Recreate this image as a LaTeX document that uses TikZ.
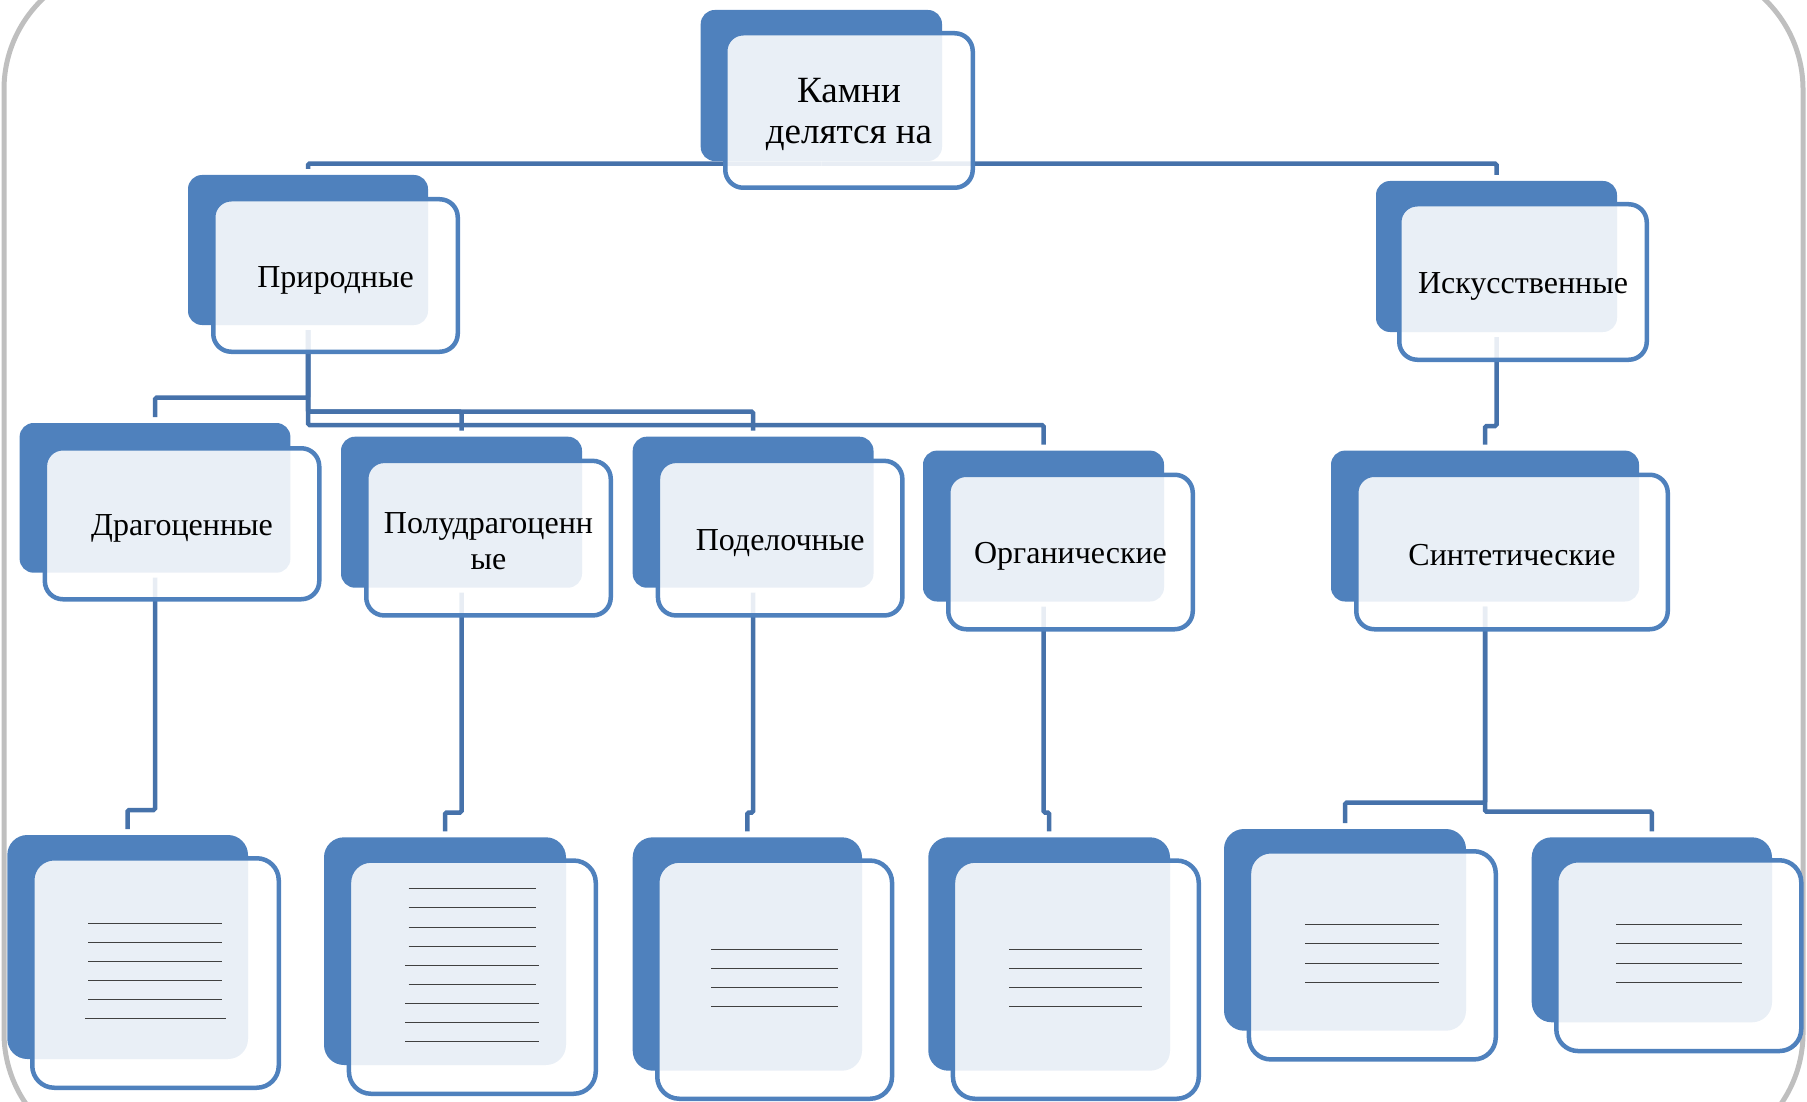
\documentclass[tikz,border=0pt]{standalone}
\usepackage{fontspec}
\setmainfont{Liberation Serif}
\usetikzlibrary{calc}
\pgfdeclarelayer{bg}
\pgfsetlayers{bg,main}
\definecolor{boxblue}{RGB}{79,129,189}
\definecolor{connblue}{RGB}{70,114,170}
\definecolor{framegray}{RGB}{191,191,191}
\definecolor{rulegray}{RGB}{64,64,64}
\tikzset{
  darkbox/.style={rectangle, fill=boxblue, rounded corners=14pt, inner sep=0pt, outer sep=0pt},
  frontbox/.style={rectangle, draw=boxblue, line width=4.5pt, fill=white, fill opacity=0.88,
    rounded corners=18pt, inner sep=0pt, outer sep=0pt},
  lbl/.style={align=center, text=black, inner sep=0pt, font=\fontsize{32}{36}\selectfont},
  toplbl/.style={font=\fontsize{37}{41.5}\selectfont},
  bigdark/.style={rounded corners=20pt},
  bigfront/.style={rounded corners=22pt},
  conn/.style={draw=connblue, line width=4.5pt, rounded corners=1.5pt},
  rule/.style={draw=rulegray, line width=1.4pt},
  frame/.style={draw=framegray, line width=5pt, rounded corners=125pt},
}
% dark (back) box: [style]{name}{x1}{y1}{x2}{y2}
\newcommand{\dk}[6][]{\node[darkbox,#1, minimum width={#5-#3}, minimum height={#6-#4}] (#2) at ({(#3+#5)/2},{(#4+#6)/2}) {};}
% front box: [style]{name}{x1}{y1}{x2}{y2}
\newcommand{\fr}[6][]{\node[frontbox,#1, minimum width={#5-#3-4.5}, minimum height={#6-#4-4.5}] (#2) at ({(#3+#5)/2},{(#4+#6)/2}) {};}
\begin{document}
\begin{tikzpicture}[x=1pt,y=-1pt]
\useasboundingbox (0,0) rectangle (1807,1102);
\clip (0,0) rectangle (1807,1102);

% boxes
\dk{K}{700.7}{10}{942}{161}
\fr{Kf}{723}{31}{975}{190}
\node[lbl,toplbl] (Kt) at ([yshift=-4pt]Kf.center) {Камни\\делятся на};

\dk{Pr}{188}{175}{428}{325}
\fr{Prf}{211}{197}{460}{354}
\node[lbl] (Prt) at ([yshift=-4.5pt]Prf.center) {Природные};

\dk{Is}{1376}{181}{1617}{332}
\fr{Isf}{1397}{202}{1649}{362}
\node[lbl] (Ist) at ([yshift=-4.5pt]Isf.center) {Искусственные};

\dk{Dr}{19.6}{423}{290.4}{572.7}
\fr{Drf}{42.6}{446}{321.5}{601.5}
\node[lbl] (Drt) at ([yshift=-4.5pt]Drf.center) {Драгоценные};

\dk{Pol}{341}{436.7}{582}{587.7}
\fr{Polf}{364}{458.6}{613}{617.7}
\node[lbl] (Polt) at ([yshift=-3pt]Polf.center) {Полудрагоценн\\ые};

\dk{Pod}{632.7}{436.7}{873.5}{587.7}
\fr{Podf}{655.7}{458.6}{904.6}{617.7}
\node[lbl] (Podt) at ([yshift=-4.5pt]Podf.center) {Поделочные};

\dk{Org}{923}{450.6}{1164}{601.5}
\fr{Orgf}{946}{472.5}{1195}{631.5}
\node[lbl] (Orgt) at ([yshift=-4.5pt]Orgf.center) {Органические};

\dk{Sin}{1331}{450.6}{1639}{601.5}
\fr{Sinf}{1354}{472.5}{1670}{631.5}
\node[lbl] (Sint) at ([yshift=-3pt]Sinf.center) {Синтетические};

\dk[bigdark]{B1}{7.3}{835}{248}{1059}
\fr[bigfront]{B1f}{30}{856}{281}{1090}
\dk[bigdark]{B2}{324}{837.3}{566}{1065}
\fr[bigfront]{B2f}{346.7}{858.3}{598}{1096}
\dk[bigdark]{B3}{632.7}{837.3}{862}{1070.7}
\fr[bigfront]{B3f}{655}{858.3}{894.3}{1101}
\dk[bigdark]{B4}{928.3}{837.3}{1170}{1070.7}
\fr[bigfront]{B4f}{950.7}{858.3}{1201}{1101}
\dk[bigdark]{B5}{1224}{829}{1466}{1030.7}
\fr[bigfront]{B5f}{1246.7}{849}{1498}{1061.7}
\dk[bigdark]{B6}{1531.7}{837.3}{1772}{1022.3}
\fr[bigfront]{B6f}{1554}{858}{1803.5}{1053.3}

% ruled lines in the empty boxes
\foreach \y in {923.3,942.3,961.3,980.3,999.3} \draw[rule] (88,\y) -- (222,\y);
\draw[rule] (85,1018.3) -- (225.7,1018.3);
\foreach \y in {888.3,907.3,927.3,946.3,984.3} \draw[rule] (408.7,\y) -- (536,\y);
\foreach \y in {965.3,1003.3,1022.3,1041.3} \draw[rule] (405.3,\y) -- (539.3,\y);
\foreach \y in {949.3,968.3,987.3,1006.3} {
  \draw[rule] (711,\y) -- (838,\y);
  \draw[rule] (1009.3,\y) -- (1142,\y);
}
\foreach \y in {924.3,943.3,963.3,982.3} {
  \draw[rule] (1305,\y) -- (1439,\y);
  \draw[rule] (1616,\y) -- (1742.4,\y);
}

% mid levels of the elbow connectors
\coordinate (yDr) at (0,397.7);
\coordinate (yPol) at (0,411.7);
\coordinate (yOrg) at (0,425);
\coordinate (yIs) at (0,426);
\coordinate (yB1) at (0,810);
\coordinate (yB2) at (0,812.5);
\coordinate (yB5) at (0,802.7);
\coordinate (yB6) at (0,811.7);

\begin{pgfonlayer}{bg}
\draw[frame] (4,-35.6) rectangle (1803,1158);
\draw[conn] ([yshift=-2.6pt]K.south) -| ([yshift=6pt]Pr.north);
\draw[conn] ([yshift=-2.6pt]K.south) -| ([yshift=6pt]Is.north);

\draw[conn] ([yshift=-5pt]Pr.south) -- (Pr.south |- yDr) -| ([yshift=6pt]Dr.north);
\draw[conn] ([yshift=-5pt]Pr.south) -- (Pr.south |- yPol) -| ([yshift=6pt]Pol.north);
\draw[conn] ([yshift=-5pt]Pr.south) -- (Pr.south |- yPol) -| ([yshift=6pt]Pod.north);
\draw[conn] ([yshift=-5pt]Pr.south) -- (Pr.south |- yOrg) -| ([yshift=6pt]Org.north);

\draw[conn] ([yshift=-5pt]Is.south) -- (Is.south |- yIs) -| ([yshift=6pt]Sin.north);

\draw[conn] ([yshift=-5pt]Dr.south) -- (Dr.south |- yB1) -| ([yshift=6pt]B1.north);
\draw[conn] ([yshift=-5pt]Pol.south) -- (Pol.south |- yB2) -| ([yshift=6pt]B2.north);
\draw[conn] ([yshift=-5pt]Pod.south) -- (Pod.south |- yB2) -| ([yshift=6pt]B3.north);
\draw[conn] ([yshift=-5pt]Org.south) -- (Org.south |- yB2) -| ([yshift=6pt]B4.north);

\draw[conn] ([yshift=-5pt]Sin.south) -- (Sin.south |- yB5) -| ([yshift=6pt]B5.north);
\draw[conn] ([yshift=-5pt]Sin.south) -- (Sin.south |- yB6) -| ([yshift=6pt]B6.north);
\end{pgfonlayer}
\end{tikzpicture}
\end{document}
